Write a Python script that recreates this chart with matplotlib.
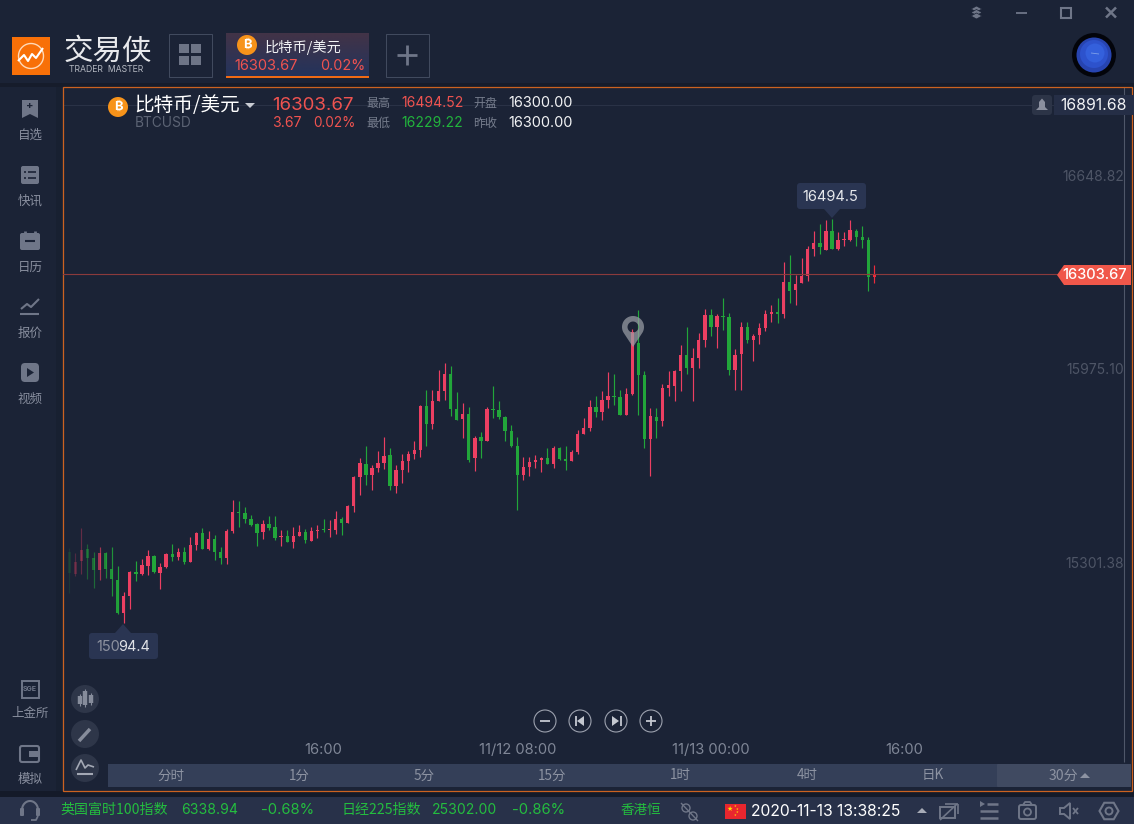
import numpy as np
import matplotlib
matplotlib.use('Agg')
import matplotlib.pyplot as plt
from matplotlib.patches import Rectangle, Circle, Polygon, FancyBboxPatch, PathPatch
from matplotlib.path import Path

opens = [
15341,15263,15308,15350,15318,15277,15336,15280,15242,15127,
15187,15270,15263,15291,15325,15266,15287,15332,15322,15339,
15305,15364,15405,15350,15384,15339,15318,15412,15478,15475,
15454,15437,15409,15437,15426,15391,15395,15374,15395,15409,
15378,15412,15419,15416,15416,15454,15440,15499,15600,15645,
15607,15631,15649,15676,15569,15624,15656,15680,15694,15847,
15784,15864,15899,15958,15836,15801,15819,15666,15739,15725,
15836,15833,15808,15760,15708,15607,15635,15652,15659,15666,
15645,15701,15662,15656,15687,15749,15770,15843,15826,15867,
15881,15878,15815,15888,16065,15954,15732,15808,15794,15909,
15916,15968,16023,15978,16013,16076,16162,16121,16159,16155,
15971,16027,16121,16076,16093,16117,16166,16173,16166,16277,
16249,16273,16298,16392,16412,16388,16454,16392,16423,16423,
16454,16433,16423,16296]
highs = [
15352,15335,15423,15366,15339,15357,15339,15357,15291,15199,
15273,15308,15315,15346,15329,15301,15336,15367,15353,15357,
15391,15409,15423,15412,15398,15357,15419,15520,15516,15496,
15468,15440,15450,15464,15464,15416,15416,15426,15433,15419,
15426,15433,15454,15450,15482,15461,15503,15603,15666,15708,
15642,15690,15739,15701,15642,15680,15690,15725,15850,15902,
15902,15972,15996,15985,15895,15857,15843,15742,15756,15843,
15916,15864,15812,15781,15739,15669,15669,15676,15669,15701,
15708,15704,15708,15694,15763,15805,15867,15881,15899,15965,
15958,15902,15909,16115,16180,15968,15839,15839,15923,15968,
15971,16058,16121,16048,16100,16183,16183,16166,16221,16169,
16044,16138,16138,16096,16135,16180,16197,16221,16346,16371,
16301,16360,16402,16454,16478,16492,16494.5,16451,16451,16492,
16461,16471,16433,16336]
lows = [
15198,15256,15263,15246,15214,15242,15249,15187,15124,15094.4,
15141,15239,15259,15259,15266,15211,15284,15308,15312,15298,
15305,15346,15350,15346,15312,15298,15298,15405,15426,15440,
15430,15360,15384,15416,15381,15360,15374,15353,15395,15371,
15378,15388,15409,15391,15402,15398,15440,15478,15537,15572,
15555,15617,15628,15555,15544,15579,15617,15662,15669,15708,
15767,15864,15867,15812,15798,15735,15652,15621,15666,15725,
15805,15801,15725,15704,15485,15590,15603,15631,15617,15645,
15631,15659,15624,15656,15680,15749,15760,15808,15798,15840,
15850,15815,15815,15885,15815,15700,15603,15735,15777,15881,
15864,15898,15957,15864,15978,16051,16089,16048,16110,15954,
15902,15902,16065,16003,16062,16107,16138,16135,16152,16204,
16197,16273,16280,16367,16374,16388,16392,16388,16402,16419,
16402,16395,16246,16273]
closes = [
15265,15305,15346,15318,15277,15336,15280,15246,15127,15187,
15270,15263,15294,15325,15270,15287,15332,15322,15339,15305,
15364,15405,15350,15384,15339,15318,15412,15478,15475,15454,
15433,15405,15437,15423,15388,15395,15374,15395,15409,15381,
15412,15416,15416,15419,15454,15440,15499,15600,15649,15607,
15631,15649,15673,15569,15624,15656,15680,15694,15847,15784,
15864,15899,15958,15836,15798,15819,15659,15735,15725,15836,
15833,15808,15760,15708,15607,15635,15652,15659,15666,15645,
15701,15662,15656,15687,15749,15770,15843,15826,15867,15881,
15878,15815,15888,16103,15954,15732,15812,15794,15909,15919,
15968,16023,15978,16013,16076,16162,16121,16159,16155,15971,
16023,16121,16076,16089,16117,16166,16173,16166,16277,16246,
16270,16298,16392,16412,16399,16454,16392,16423,16426,16458,
16433,16423,16294,16303.67]
y_ticks = [16648.82, 15975.10, 15301.38]
y_tick_labels = ['16648.82', '15975.10', '15301.38']
x_ticks = [42, 74, 106, 138]
x_tick_labels = ['16:00', '11/12 08:00', '11/13 00:00', '16:00']
last_price = 16303.67
periods = ['分时', '1分', '5分', '15分', '1时', '4时', '日K']
period_x = [171, 299, 424, 552, 680, 807, 933]
W, H = 1134, 824
BG = '#1b2336'
RED = '#ec3f62'
GREEN = '#22a63a'
GRAY = '#7f8696'
ICON = '#6f7688'
ORANGE = '#cc6220'
CJK = ['Noto Sans CJK SC', 'DejaVu Sans']
NUM = ['Inter', 'DejaVu Sans']

fig = plt.figure(figsize=(W / 100, H / 100), dpi=100, facecolor=BG)

def pixel_axes(z):
    a = fig.add_axes([0, 0, 1, 1], zorder=z)
    a.set_xlim(0, W)
    a.set_ylim(H, 0)
    a.axis('off')
    a.patch.set_alpha(0)
    return a

ui = pixel_axes(0)
top = pixel_axes(2)

def T(a, x, y, s, px, color, ha='left', fam=CJK, **kw):
    return a.text(x, y, s, fontsize=px * 0.72, color=color, ha=ha, va='center',
                  family=fam, **kw)

def rect(a, x0, y0, x1, y1, fc, ec='none', lw=0, z=1, **kw):
    a.add_patch(Rectangle((x0, y0), x1 - x0, y1 - y0, fc=fc, ec=ec, lw=lw, zorder=z, **kw))

def rrect(a, x0, y0, x1, y1, fc, r=3, ec='none', lw=0, z=1):
    a.add_patch(FancyBboxPatch((x0 + r, y0 + r), x1 - x0 - 2 * r, y1 - y0 - 2 * r,
                               boxstyle=f'round,pad={r},rounding_size={r}',
                               fc=fc, ec=ec, lw=lw, zorder=z))

def seg(a, xs, ys, c=ICON, lw=1.5, z=3, **kw):
    a.plot(xs, ys, color=c, lw=lw, zorder=z, solid_capstyle=kw.pop('cap', 'butt'), **kw)

# ------- chrome backgrounds
rect(ui, 0, 83, W, 87, '#161c2b')
rect(ui, 56, 87, 62, 791, '#182031')
rect(ui, 0, 791, W, 797, '#141a29')
rect(ui, 0, 797, W, H, '#283149')

# ------- window controls
for dy in (9, 12.5, 16):
    ui.add_patch(Polygon([[971, dy], [976.5, dy - 3], [982, dy], [976.5, dy + 3]], fc=ICON, ec=BG, lw=0.5, zorder=3))
seg(ui, [1016, 1027], [12.5, 12.5], lw=1.3)
ui.add_patch(Rectangle((1061, 7.5), 10, 10, fc='none', ec=ICON, lw=1.5))
seg(ui, [1106, 1116], [7.5, 17.5], lw=1.8)
seg(ui, [1106, 1116], [17.5, 7.5], lw=1.8)

# ------- logo
rect(ui, 12, 37, 50, 75, '#f87008')
th = np.linspace(0, 2 * np.pi, 60)
seg(ui, 31 + 12.5 * np.cos(th), 56 + 12.5 * np.sin(th), c='#ffd9b8', lw=1)
seg(ui, [18, 24, 28, 32, 36, 43], [61, 55, 61, 54, 58, 48], c='white', lw=1.5)
T(ui, 64, 51, '交易侠', 29.5, '#e8e9ec', weight='light')
T(ui, 69, 69, 'TRADER  MASTER', 8.7, '#b6bac3', fam=NUM)

# ------- grid button, tab, plus
ui.add_patch(Rectangle((168.5, 33.5), 43, 43, fc='none', ec='#414a5e', lw=0.75))
for sx, sy in ((179, 44), (191, 44), (179, 56), (191, 56)):
    rect(ui, sx, sy, sx + 10, sy + 9, '#6d7486')
rrect(ui, 226, 33, 369, 77, '#332f47', r=2)
ui.imshow(np.linspace(0, 1, 44)[:, None, None] * np.array([[[-0.12, 0.0, 0.08]]]) +
          np.array([[[0.26, 0.2, 0.28]]]), extent=(226, 369, 76, 33), aspect='auto', zorder=1.5)
ui.set_xlim(0, W)
ui.set_ylim(H, 0)
rect(ui, 226, 76, 369, 78, '#f06a14', z=2)

def btc(a, cx, cy, r, size):
    a.add_patch(Circle((cx, cy), r, fc='#f7931a', ec='none', zorder=3))
    T(a, cx, cy, '₿', size, 'white', ha='center',
      fam=['Inter', 'Roboto', 'Noto Sans', 'Open Sans', 'Lato', 'Liberation Sans', 'DejaVu Sans'],
      weight='bold', zorder=4)

btc(ui, 247, 45, 10, 13)
T(ui, 265, 47, '比特币/美元', 14.2, '#f2f3f5')
T(ui, 234, 66, '16303.67', 14.6, '#ef5350', fam=NUM)
T(ui, 320, 66, '0.02%', 14.4, '#ef5350', fam=NUM)
ui.add_patch(Rectangle((385.5, 33.5), 43, 43, fc='none', ec='#414a5e', lw=0.75))
seg(ui, [397, 417], [55, 55], lw=2)
seg(ui, [407, 407], [45, 65], lw=2)

# ------- planet
ui.add_patch(Circle((1094, 55), 22, fc='#03040a', ec='none', zorder=3))
ui.add_patch(Circle((1094, 55), 17.5, fc='#2744b0', ec='none', zorder=4))
ui.add_patch(Circle((1094, 54), 14, fc='#2d52cc', ec='none', zorder=5))
ui.add_patch(Circle((1095, 53), 9.5, fc='#3460dc', ec='none', zorder=5))
seg(ui, [1091, 1099], [53, 54], c='#7fa0ea', lw=0.6, z=6)

# ------- sidebar
def label(y, s):
    T(ui, 30, y, s, 12.5, '#898f9f', ha='center')
ui.add_patch(Polygon([[22, 100], [38, 100], [38, 118], [30, 114], [22, 118]], fc=ICON, zorder=3))
T(ui, 30, 106, '+', 11, BG, ha='center', fam=NUM, weight='bold', zorder=4)
label(135, '自选')
rrect(ui, 21, 166, 39, 184, ICON, r=2, z=3)
for yy in (172, 178):
    seg(ui, [24, 26], [yy, yy], c=BG, lw=1.2, z=4)
    seg(ui, [28, 36], [yy, yy], c=BG, lw=1.2, z=4)
label(201, '快讯')
rrect(ui, 20, 233, 40, 250, ICON, r=2, z=3)
seg(ui, [25, 25], [231, 235], lw=2)
seg(ui, [35, 35], [231, 235], lw=2)
seg(ui, [25, 35], [241, 241], c=BG, lw=1.5, z=4)
label(267, '日历')
seg(ui, [21, 27, 31, 39], [309, 304, 307, 299], lw=1.5)
seg(ui, [20, 39], [314, 314], lw=1.5)
label(333, '报价')
rrect(ui, 21, 363, 39, 382, ICON, r=4, z=3)
ui.add_patch(Polygon([[27, 368], [27, 377], [34, 372.5]], fc=BG, zorder=4))
label(399, '视频')
ui.add_patch(Rectangle((21.5, 680.5), 17, 17, fc='none', ec=ICON, lw=1.4))
T(ui, 30, 689, 'SGE', 7, ICON, ha='center', fam=NUM, weight='bold')
label(713, '上金所')
rrect(ui, 20, 746, 39, 762, 'none', r=2, ec=ICON, lw=1.5, z=3)
rect(ui, 29, 751, 38, 757, ICON, z=3)
label(779, '模拟')

# ------- chart axes
X0, DX = 69.3, 6.053
PY, PP, SC = 175.0, 16648.82, 3.4728
ax = fig.add_axes([63 / W, 1 - 790 / H, (1131 - 63) / W, (790 - 87) / H], zorder=1)
ax.patch.set_alpha(0)
ax.set_xlim((63 - X0) / DX, (1131 - X0) / DX)
ax.set_ylim(PP - (790 - PY) * SC, PP + (PY - 87) * SC)
for s in ax.spines.values():
    s.set_visible(False)
n = len(opens)
idx = np.arange(n)
o, h, l, c = map(np.array, (opens, highs, lows, closes))
fade = np.clip(0.15 + idx * 0.1, 0, 1)
cols = []
for i in idx:
    base = matplotlib.colors.to_rgb(RED if c[i] >= o[i] else GREEN)
    if i == n - 1:
        base = matplotlib.colors.to_rgb('#ef2b3c')
    cols.append((*base, fade[i]))
ax.vlines(idx, l, h, colors=cols, lw=0.85, zorder=3)
ax.bar(idx, np.abs(c - o), bottom=np.minimum(o, c), width=0.55, color=cols, linewidth=0, zorder=4)
ax.axhline(last_price, color='#8b3a3c', lw=0.8, zorder=5)
ax.set_yticks(y_ticks)
ax.set_yticklabels(y_tick_labels, ha='right', va='center_baseline', family=NUM, fontsize=10.0, color='#4e5566')
ax.yaxis.tick_right()
ax.tick_params(axis='y', length=0, pad=-5)
ax.set_xticks(x_ticks)
ax.set_xticklabels(x_tick_labels, family=NUM, fontsize=10.6, color=GRAY)
ax.tick_params(axis='x', length=0, pad=-33.7)

# ------- frame and lines
ui.add_patch(Rectangle((62.5, 86.5), 1069, 704, fc='none', ec=ORANGE, lw=0.9, zorder=4))
seg(ui, [63, 1131], [105, 105], c='#2a3246', lw=0.8, z=0.5)
seg(ui, [1123.5, 1123.5], [87, 762], c='#4f5769', lw=0.8, z=0.6)

# ------- chart header
btc(top, 118, 107, 10, 13)
T(top, 134, 105.5, '比特币/美元', 19.6, '#ffffff', weight='medium')
top.add_patch(Polygon([[245, 103], [255, 103], [250, 108]], fc='#c9ccd3'))
T(top, 135, 123, 'BTCUSD', 13.7, '#5c6374', fam=NUM)
T(top, 272, 105, '16303.67', 18.7, '#ef5350', fam=NUM)
T(top, 272, 123, '3.67', 14, '#ef5350', fam=NUM)
T(top, 313, 123, '0.02%', 13.6, '#ef5350', fam=NUM)
T(top, 366, 103, '最高', 12, '#767d8d')
T(top, 366, 123, '最低', 12, '#767d8d')
T(top, 401, 103, '16494.52', 14, '#ef5350', fam=NUM)
T(top, 401, 123, '16229.22', 14, '#22b43c', fam=NUM)
T(top, 473, 103, '开盘', 12, '#767d8d')
T(top, 473, 123, '昨收', 12, '#767d8d')
T(top, 508, 103, '16300.00', 14.5, '#f2f3f5', fam=NUM)
T(top, 508, 123, '16300.00', 14.5, '#f2f3f5', fam=NUM)

# ------- top right tag
rrect(top, 1032, 95, 1052, 115, '#2c3447', r=3)
top.add_patch(Polygon([[1036, 110], [1039, 107], [1039, 102], [1042, 98.5], [1045, 102], [1045, 107], [1048, 110]], fc='#8a8f9e', zorder=3))
rect(top, 1054, 95, W, 115, '#252e46')
T(top, 1094, 105.5, '16891.68', 15.8, '#f2f3f5', ha='center', fam=NUM)

# ------- price tag
top.add_patch(Polygon([[1057, 275], [1064, 265], [1131, 265], [1131, 285], [1064, 285]], fc='#f0574a', zorder=3))
T(top, 1095, 275, '16303.67', 14.7, 'white', ha='center', fam=NUM, zorder=4, weight='medium')

# ------- high and low tags
rrect(top, 797, 183, 866, 209, '#2a3552', r=3)
top.add_patch(Polygon([[824, 209], [840, 209], [832, 218]], fc='#2a3552'))
T(top, 830.5, 196.5, '16494.5', 14.6, '#e6e8ec', ha='center', fam=NUM)
rrect(top, 89, 633, 158, 659, '#2a3552', r=3)
top.add_patch(Polygon([[115, 633], [131, 633], [123, 624]], fc='#2a3552'))
T(top, 96, 647, '150', 14.5, '#8d92a0', fam=NUM)
T(top, 118.5, 647, '94.4', 14.5, '#dfe1e6', fam=NUM)

# ------- event pin
cx, cy, R, tipy = 633, 327, 11, 347
ang = np.linspace(np.radians(-215), np.radians(35), 50)
px = np.r_[cx + R * np.cos(ang), cx]
py = np.r_[cy + R * np.sin(ang), tipy]
hole = np.linspace(2 * np.pi, 0, 30)
hx, hy = cx + 5.5 * np.cos(hole), cy + 5.5 * np.sin(hole)
verts = np.r_[np.c_[px, py], [[px[0], py[0]]], np.c_[hx, hy]]
codes = [Path.MOVETO] + [Path.LINETO] * (len(px) - 1) + [Path.CLOSEPOLY] + [Path.MOVETO] + [Path.LINETO] * (len(hx) - 1)
top.add_patch(PathPatch(Path(verts, codes), fc='#9a9ea6', ec='none', alpha=0.72, zorder=5))

# ------- zoom buttons
for bx in (545, 580, 616, 651):
    top.add_patch(Circle((bx, 721), 11, fc='none', ec='#9ca1ae', lw=0.8))
seg(top, [540, 550], [721, 721], c='#c4c8d0', lw=1.3)
seg(top, [646, 656], [721, 721], c='#c4c8d0', lw=1.3)
seg(top, [651, 651], [716, 726], c='#c4c8d0', lw=1.3)
seg(top, [575.5, 575.5], [716, 726], c='#c4c8d0', lw=1.3)
top.add_patch(Polygon([[584, 716], [584, 726], [577, 721]], fc='#c4c8d0'))
seg(top, [620.5, 620.5], [716, 726], c='#c4c8d0', lw=1.3)
top.add_patch(Polygon([[612, 716], [612, 726], [619, 721]], fc='#c4c8d0'))

# ------- left tools
for by in (699, 734, 768):
    top.add_patch(Circle((85, by), 14, fc='#2e3649', ec='none'))
for ox, yy, hh in ((80, 700, 4), (85, 698, 7), (90.5, 699, 4)):
    seg(top, [ox, ox], [yy - hh - 2, yy + hh + 2], c='#868c9b', lw=0.8)
    seg(top, [ox, ox], [yy - hh, yy + hh], c='#868c9b', lw=3.2)
seg(top, [79, 90], [741, 729], c='#868c9b', lw=2.5)
seg(top, [76, 81, 85, 88, 94], [770, 760, 768, 765, 767], c='#a3a8b4', lw=1.2)
seg(top, [77, 93], [774, 774], c='#a3a8b4', lw=1.5)

# ------- period bar
rect(top, 108, 764, 1131, 787, '#343f58')
rrect(top, 997, 764, 1131, 787, '#404a61', r=1, z=2)
for xp, s in zip(period_x, periods):
    T(top, xp, 775.5, s, 13.5, '#8d93a2', ha='center', zorder=3)
T(top, 1063, 775.5, '30分', 14, '#8d93a2', ha='center', zorder=3)
top.add_patch(Polygon([[1080, 778], [1090, 778], [1085, 773]], fc='#8d93a2', zorder=3))

# ------- bottom bar
th2 = np.linspace(np.pi, 2 * np.pi, 30)
seg(ui, 30 + 8 * np.cos(th2), 810 + 9 * np.sin(th2), lw=1.5)
rrect(ui, 20, 808, 24, 816, ICON, r=1, z=3)
rrect(ui, 36, 808, 40, 816, ICON, r=1, z=3)
seg(ui, [38, 36, 31], [816, 820, 820], lw=1.3)
GT = '#24bd3f'
T(ui, 60, 809.7, '英国富时100指数', 14, GT)
T(ui, 181, 809.7, '6338.94', 14, GT, fam=NUM)
T(ui, 261, 809.7, '-0.68%', 14.8, GT, fam=NUM)
T(ui, 341, 809.7, '日经225指数', 14, GT)
T(ui, 432, 809.7, '25302.00', 14, GT, fam=NUM)
T(ui, 512, 809.7, '-0.86%', 14.8, GT, fam=NUM)
T(ui, 620, 809.7, '香港恒', 13.5, GT)
seg(ui, [681, 698], [803, 821], lw=1)
ui.add_patch(Circle((686, 808), 4, fc='none', ec=ICON, lw=1, zorder=3))
ui.add_patch(Circle((693, 816), 4, fc='none', ec=ICON, lw=1, zorder=3))
rect(ui, 725, 804, 746, 819, '#e8262e', z=3)
T(ui, 730, 809, '★', 7, '#ffdf00', ha='center', fam=['DejaVu Sans'], zorder=4)
for sx, sy in ((735, 806), (737, 809), (737, 812), (735, 815)):
    T(ui, sx, sy, '★', 3, '#ffdf00', ha='center', fam=['DejaVu Sans'], zorder=4)
T(ui, 751, 811, '2020-11-13 13:38:25', 15.7, '#ffffff', fam=NUM)
ui.add_patch(Polygon([[917, 813], [927, 813], [922, 808]], fc='#a7abb6', zorder=3))
# bottom right icons
ui.add_patch(Rectangle((940, 807), 15, 11, fc='none', ec=ICON, lw=1.4, zorder=3))
seg(ui, [945, 958], [804, 804], lw=1.2)
seg(ui, [958, 958], [804, 814], lw=1.2)
seg(ui, [940, 957], [820, 804], lw=1.2)
for yy, xa in ((804, 987), (811, 980), (818, 980)):
    seg(ui, [xa, 998], [yy, yy], lw=1.8)
ui.add_patch(Polygon([[980, 801], [985, 804], [980, 807]], fc=ICON, zorder=3))
rrect(ui, 1019, 805, 1036, 819, 'none', r=2, ec=ICON, lw=1.4, z=3)
ui.add_patch(Circle((1027.5, 812), 3.5, fc='none', ec=ICON, lw=1.3, zorder=3))
seg(ui, [1023, 1025, 1030, 1032], [805, 802, 802, 805], lw=1.3)
ui.add_patch(Polygon([[1060, 808], [1064, 808], [1070, 803], [1070, 819], [1064, 814], [1060, 814]], fc='none', ec=ICON, lw=1.4, zorder=3))
seg(ui, [1073, 1078], [808, 814], lw=1.3)
seg(ui, [1073, 1078], [814, 808], lw=1.3)
ang6 = np.radians(np.arange(0, 360, 60))
ui.add_patch(Polygon(np.c_[1109 + 9.5 * np.cos(ang6), 811 + 9.5 * np.sin(ang6)], fc='none', ec=ICON, lw=1.5, zorder=3))
ui.add_patch(Circle((1109, 811), 3.5, fc='none', ec=ICON, lw=1.4, zorder=3))

fig.savefig('out.png', dpi=100, facecolor=BG)
